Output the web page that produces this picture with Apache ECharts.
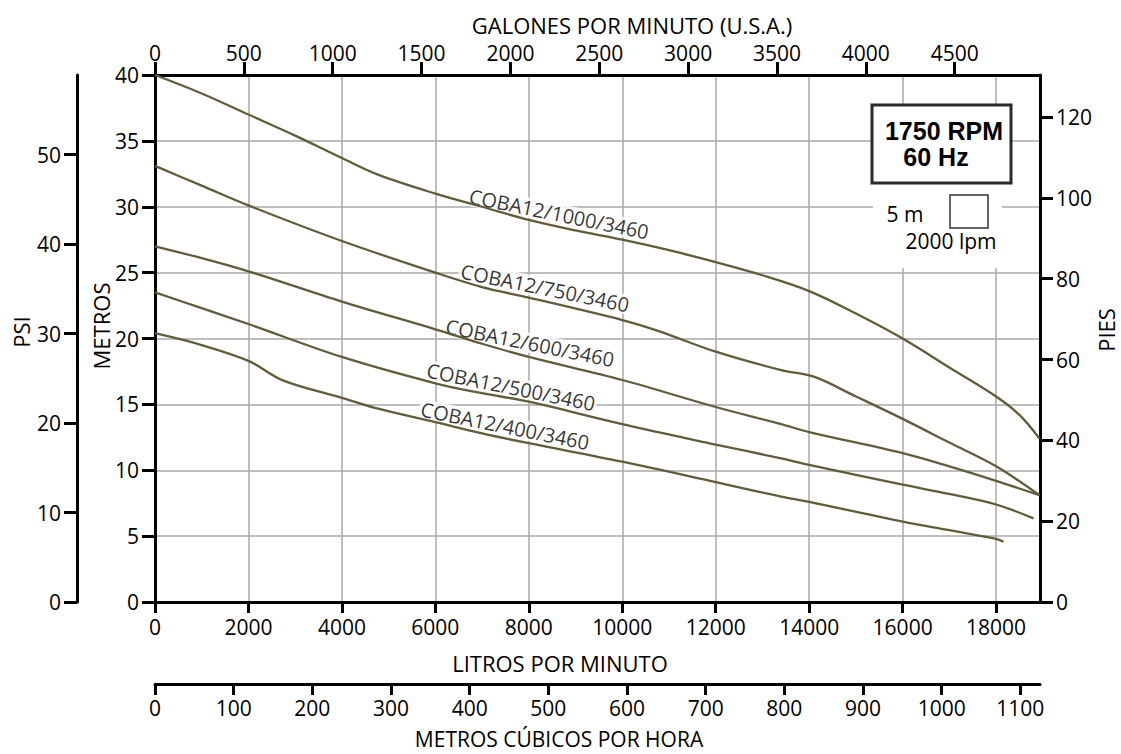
<!DOCTYPE html>
<html>
<head>
<meta charset="utf-8">
<script src="https://cdn.jsdelivr.net/npm/echarts@6/dist/echarts.min.js"></script>
<style>
html,body{margin:0;padding:0;background:#fff;}
#chart{width:1121px;height:754px;}
</style>
</head>
<body>
<div id="chart"></div>
<script>
// ---- data (flow in litros por minuto, head in metros) ----
const curve1000 = [[0,40.0],[1000,38.6],[2000,37.0],[3000,35.4],[4000,33.7],[4800,32.4],[6000,31.0],[7000,30.0],[8000,29.0],[9000,28.2],[10000,27.5],[11000,26.7],[12000,25.8],[13000,24.8],[14000,23.6],[15000,21.9],[16000,20.0],[17000,17.8],[18000,15.6],[18500,14.2],[18930,12.4]];
const curve750  = [[0,33.1],[1000,31.6],[2000,30.1],[4000,27.4],[6000,25.0],[7000,23.9],[8000,23.1],[10000,21.4],[10750,20.6],[12000,19.0],[13400,17.6],[14100,17.1],[15000,15.6],[16000,13.9],[17000,12.1],[18000,10.3],[18930,8.1]];
const curve600  = [[0,27.0],[1000,26.1],[2000,25.1],[4000,22.8],[6000,20.7],[7000,19.6],[8000,18.6],[10000,16.85],[12000,14.8],[13400,13.5],[14000,12.9],[16000,11.3],[17000,10.3],[18000,9.2],[18930,8.1]];
const curve500  = [[0,23.5],[1000,22.3],[2000,21.1],[4000,18.6],[6000,16.6],[7000,15.85],[8000,15.2],[10000,13.5],[12000,11.95],[13400,10.9],[14000,10.4],[16000,8.9],[17000,8.2],[18000,7.4],[18800,6.35]];
const curve400  = [[0,20.4],[1000,19.5],[2000,18.3],[2750,16.8],[4000,15.5],[4800,14.65],[6000,13.65],[7000,12.8],[8000,12.05],[10000,10.65],[12000,9.1],[13400,8.0],[14000,7.6],[16000,6.1],[17000,5.45],[18000,4.8],[18160,4.58]];

const seriesNames = ['COBA12/1000/3460','COBA12/750/3460','COBA12/600/3460','COBA12/500/3460','COBA12/400/3460'];
const seriesData  = [curve1000, curve750, curve600, curve500, curve400];
// label anchor (lpm, metros) for each curve name
const labelAnchors = [[8646,29.45],[8346,23.83],[8025,19.66],[7618,16.32],[7490,13.36]];

// ---- axes ----
const lpmTicks    = [0,2000,4000,6000,8000,10000,12000,14000,16000,18000];
const gpmTicks    = [0,500,1000,1500,2000,2500,3000,3500,4000,4500];
const m3hTicks    = [0,100,200,300,400,500,600,700,800,900,1000,1100];
const metrosTicks = [0,5,10,15,20,25,30,35,40];
const psiTicks    = [0,10,20,30,40,50];
const piesTicks   = [0,20,40,60,80,100,120];
const LPM_MAX = 18940, GPM_MAX = 4980, M3H_MAX = 1125, METROS_MAX = 40, PSI_MAX = 58.9, PIES_MAX = 130.4;

const FONT = "'Open Sans', 'Noto Sans', sans-serif";
const chart = echarts.init(document.getElementById('chart'), null, {renderer:'svg'});

function axisBase(ticks, margin, tickLen){
  return {
    type:'value',
    axisLine:{show:true, onZero:false, lineStyle:{color:'#000', width:3}},
    axisTick:{show:true, length:tickLen, customValues:ticks, lineStyle:{color:'#000', width:3}},
    axisLabel:{show:true, customValues:ticks, margin:margin, fontSize:21, color:'#000', fontFamily:FONT,
      formatter:function(v){return String(v);}},
    splitLine:{show:false}
  };
}

const xLpm = Object.assign(axisBase(lpmTicks, 14, 11), {position:'bottom', min:0, max:LPM_MAX, interval:2000,
  splitLine:{show:true, lineStyle:{color:'#a9a9a9', width:1.5}}});
const xGpm = Object.assign(axisBase(gpmTicks, 12, 13), {position:'top', min:0, max:GPM_MAX, interval:500});
const xM3h = Object.assign(axisBase(m3hTicks, 13, 11), {position:'bottom', offset:82, min:0, max:M3H_MAX, interval:100});
const yMet = Object.assign(axisBase(metrosTicks, 16, 13), {position:'left', min:0, max:METROS_MAX, interval:5,
  splitLine:{show:true, lineStyle:{color:'#a9a9a9', width:1.5}}});
const yPies = Object.assign(axisBase(piesTicks, 16, 13), {position:'right', min:0, max:PIES_MAX, interval:20});
const yPsi = Object.assign(axisBase(psiTicks, 16, 13), {position:'left', offset:78, min:0, max:PSI_MAX, interval:10});

const series = seriesData.map(function(d, i){
  return {type:'line', name:seriesNames[i], data:d, xAxisIndex:0, yAxisIndex:0, showSymbol:false,
    smooth:0.35, z:3, silent:true, lineStyle:{color:'#625c3a', width:2.3}};
});
series.push({
  type:'scatter', xAxisIndex:0, yAxisIndex:0, symbolSize:0, z:1, silent:true,
  data: labelAnchors.map(function(p, i){ return {name:seriesNames[i], value:p}; }),
  label:{show:true, position:'inside', formatter:'{b}', rotate:-11.5, fontSize:20, color:'#000', fontFamily:FONT,
    backgroundColor:'#fff', padding:[0,2]}
});

function txt(text, x, y, size, opts){
  opts = opts || {};
  return {type:'text', x:x, y:y, rotation:opts.rot || 0, z:20,
    style:{text:text, fontSize:size, fontFamily:opts.font || FONT, fontWeight:opts.weight || 'normal',
      fill:'#000', align:'center', verticalAlign:'middle'}};
}

chart.setOption({
  animation:false,
  backgroundColor:'#fff',
  grid:{left:155, top:75, width:885, height:527, containLabel:false},
  xAxis:[xLpm, xGpm, xM3h],
  yAxis:[yMet, yPies, yPsi],
  series:series,
  graphic:[
    {type:'rect', z:10, shape:{x:873, y:184, width:129, height:84}, style:{fill:'#fff'}},
    {type:'rect', z:11, shape:{x:872, y:105, width:139, height:78}, style:{fill:'#fff', stroke:'#2b2b2b', lineWidth:3}},
    {type:'rect', z:11, shape:{x:950, y:195, width:38, height:33}, style:{fill:'#fff', stroke:'#333', lineWidth:1.5}},
    txt('1750 RPM', 944, 131, 25, {font:"'Liberation Sans', Arial, sans-serif", weight:'bold'}),
    txt('60 Hz', 936, 157, 25, {font:"'Liberation Sans', Arial, sans-serif", weight:'bold'}),
    txt('5 m', 905, 214, 21),
    txt('2000 lpm', 951, 241, 21),
    txt('GALONES POR MINUTO (U.S.A.)', 632, 25, 22),
    txt('LITROS POR MINUTO', 560, 663, 22),
    txt('METROS CÚBICOS POR HORA', 559, 739, 21),
    txt('PSI', 21, 332, 22, {rot:Math.PI/2}),
    txt('METROS', 101, 326, 22, {rot:Math.PI/2}),
    txt('PIES', 1106, 330, 22, {rot:Math.PI/2})
  ]
});
</script>
</body>
</html>
